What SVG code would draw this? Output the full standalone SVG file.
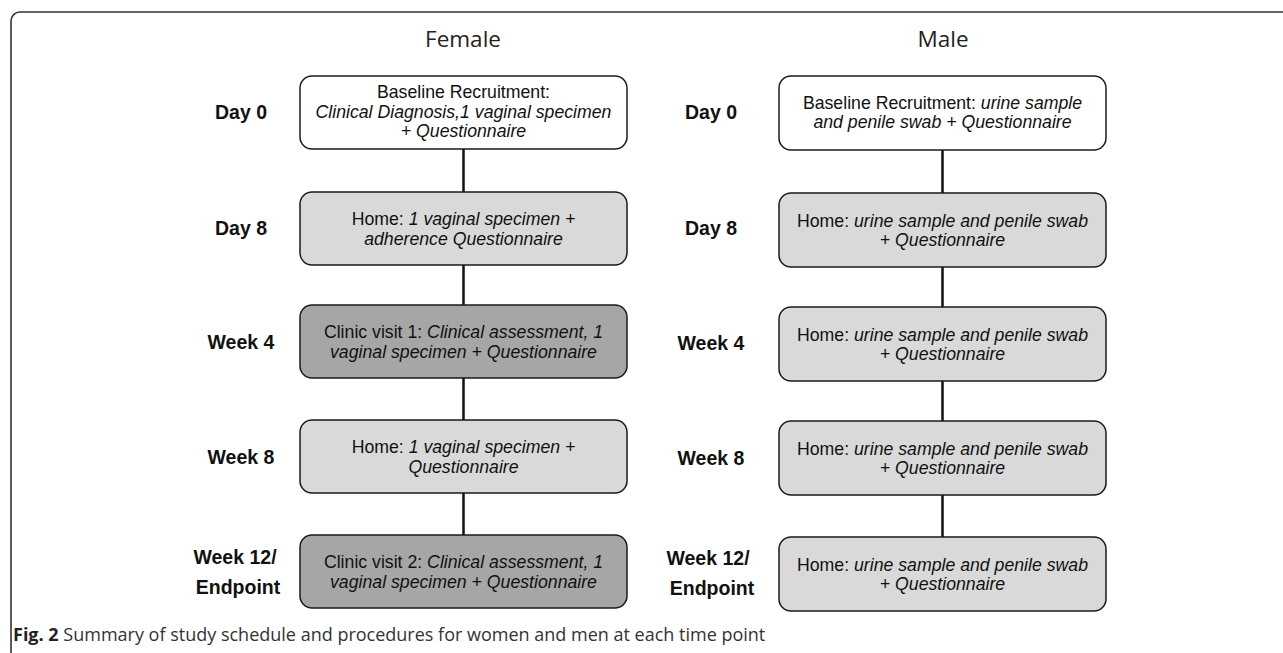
<svg xmlns="http://www.w3.org/2000/svg" width="1283" height="653" viewBox="0 0 1283 653">
<style>
.box{stroke:#1a1a1a;stroke-width:1.5}
.w{fill:#ffffff}.l{fill:#d9d9d9}.d{fill:#a6a6a6}
.t{font-family:"Liberation Sans",Arial,sans-serif;font-size:17.7px;fill:#111;text-anchor:middle}
.i{font-style:italic}
.lab{font-family:"Liberation Sans",Arial,sans-serif;font-size:19.5px;font-weight:bold;fill:#111;text-anchor:middle}
.title{font-family:"Open Sans",sans-serif;font-size:22.5px;fill:#222;text-anchor:middle}
.cap{font-family:"Open Sans",sans-serif;font-size:18px;fill:#333}
.conn{stroke:#111;stroke-width:2.5}
</style>
<rect width="1283" height="653" fill="#ffffff"/>
<path d="M11,653 V21 A9,9 0 0 1 20,12 H1283" fill="none" stroke="#333" stroke-width="1.6"/>
<text class="title" x="463" y="47">Female</text>
<text class="title" x="943" y="47">Male</text>
<g id="labels-female">
<text class="lab" x="241" y="119">Day 0</text>
<text class="lab" x="241" y="235">Day 8</text>
<text class="lab" x="241" y="349">Week 4</text>
<text class="lab" x="241" y="464">Week 8</text>
<text class="lab" x="235" y="564">Week 12/</text>
<text class="lab" x="238" y="594">Endpoint</text>
</g>
<g id="labels-male">
<text class="lab" x="711" y="119">Day 0</text>
<text class="lab" x="711" y="235">Day 8</text>
<text class="lab" x="711" y="350">Week 4</text>
<text class="lab" x="711" y="465">Week 8</text>
<text class="lab" x="708" y="565">Week 12/</text>
<text class="lab" x="712" y="595">Endpoint</text>
</g>
<g id="connectors">
<line class="conn" x1="463.5" y1="149" x2="463.5" y2="192"/>
<line class="conn" x1="463.5" y1="265" x2="463.5" y2="305"/>
<line class="conn" x1="463.5" y1="378" x2="463.5" y2="420"/>
<line class="conn" x1="463.5" y1="493" x2="463.5" y2="535"/>
<line class="conn" x1="942.5" y1="150" x2="942.5" y2="193"/>
<line class="conn" x1="942.5" y1="267" x2="942.5" y2="307"/>
<line class="conn" x1="942.5" y1="381" x2="942.5" y2="421"/>
<line class="conn" x1="942.5" y1="495" x2="942.5" y2="537"/>
</g>
<g id="f-day0">
<rect class="box w" x="300" y="76" width="327" height="73" rx="12"/>
<text class="t" x="463.5" y="98">Baseline Recruitment:</text>
<text class="t i" x="463.5" y="118">Clinical Diagnosis,1 vaginal specimen</text>
<text class="t i" x="463.5" y="137">+ Questionnaire</text>
</g>
<g id="f-day8">
<rect class="box l" x="300" y="192" width="327" height="73" rx="12"/>
<text class="t" x="463.5" y="225">Home: <tspan class="i">1 vaginal specimen +</tspan></text>
<text class="t i" x="463.5" y="244.5">adherence Questionnaire</text>
</g>
<g id="f-week4">
<rect class="box d" x="300" y="305" width="327" height="73" rx="12"/>
<text class="t" x="463.5" y="338">Clinic visit 1: <tspan class="i">Clinical assessment, 1</tspan></text>
<text class="t i" x="463.5" y="357.5">vaginal specimen + Questionnaire</text>
</g>
<g id="f-week8">
<rect class="box l" x="300" y="420" width="327" height="73" rx="12"/>
<text class="t" x="463.5" y="453">Home: <tspan class="i">1 vaginal specimen +</tspan></text>
<text class="t i" x="463.5" y="472.5">Questionnaire</text>
</g>
<g id="f-week12">
<rect class="box d" x="300" y="535" width="327" height="73" rx="12"/>
<text class="t" x="463.5" y="568">Clinic visit 2: <tspan class="i">Clinical assessment, 1</tspan></text>
<text class="t i" x="463.5" y="587.5">vaginal specimen + Questionnaire</text>
</g>
<g id="m-day0">
<rect class="box w" x="779" y="76" width="327" height="74" rx="12"/>
<text class="t" x="942.5" y="108.5">Baseline Recruitment: <tspan class="i">urine sample</tspan></text>
<text class="t i" x="942.5" y="128">and penile swab + Questionnaire</text>
</g>
<g id="m-day8">
<rect class="box l" x="779" y="193" width="327" height="74" rx="12"/>
<text class="t" x="942.5" y="226.5">Home: <tspan class="i">urine sample and penile swab</tspan></text>
<text class="t i" x="942.5" y="246">+ Questionnaire</text>
</g>
<g id="m-week4">
<rect class="box l" x="779" y="307" width="327" height="74" rx="12"/>
<text class="t" x="942.5" y="340.5">Home: <tspan class="i">urine sample and penile swab</tspan></text>
<text class="t i" x="942.5" y="360">+ Questionnaire</text>
</g>
<g id="m-week8">
<rect class="box l" x="779" y="421" width="327" height="74" rx="12"/>
<text class="t" x="942.5" y="454.5">Home: <tspan class="i">urine sample and penile swab</tspan></text>
<text class="t i" x="942.5" y="474">+ Questionnaire</text>
</g>
<g id="m-week12">
<rect class="box l" x="779" y="537" width="327" height="74" rx="12"/>
<text class="t" x="942.5" y="570.5">Home: <tspan class="i">urine sample and penile swab</tspan></text>
<text class="t i" x="942.5" y="590">+ Questionnaire</text>
</g>
<text class="cap" x="13" y="641"><tspan font-weight="bold" fill="#222">Fig. 2</tspan> Summary of study schedule and procedures for women and men at each time point</text>
</svg>
